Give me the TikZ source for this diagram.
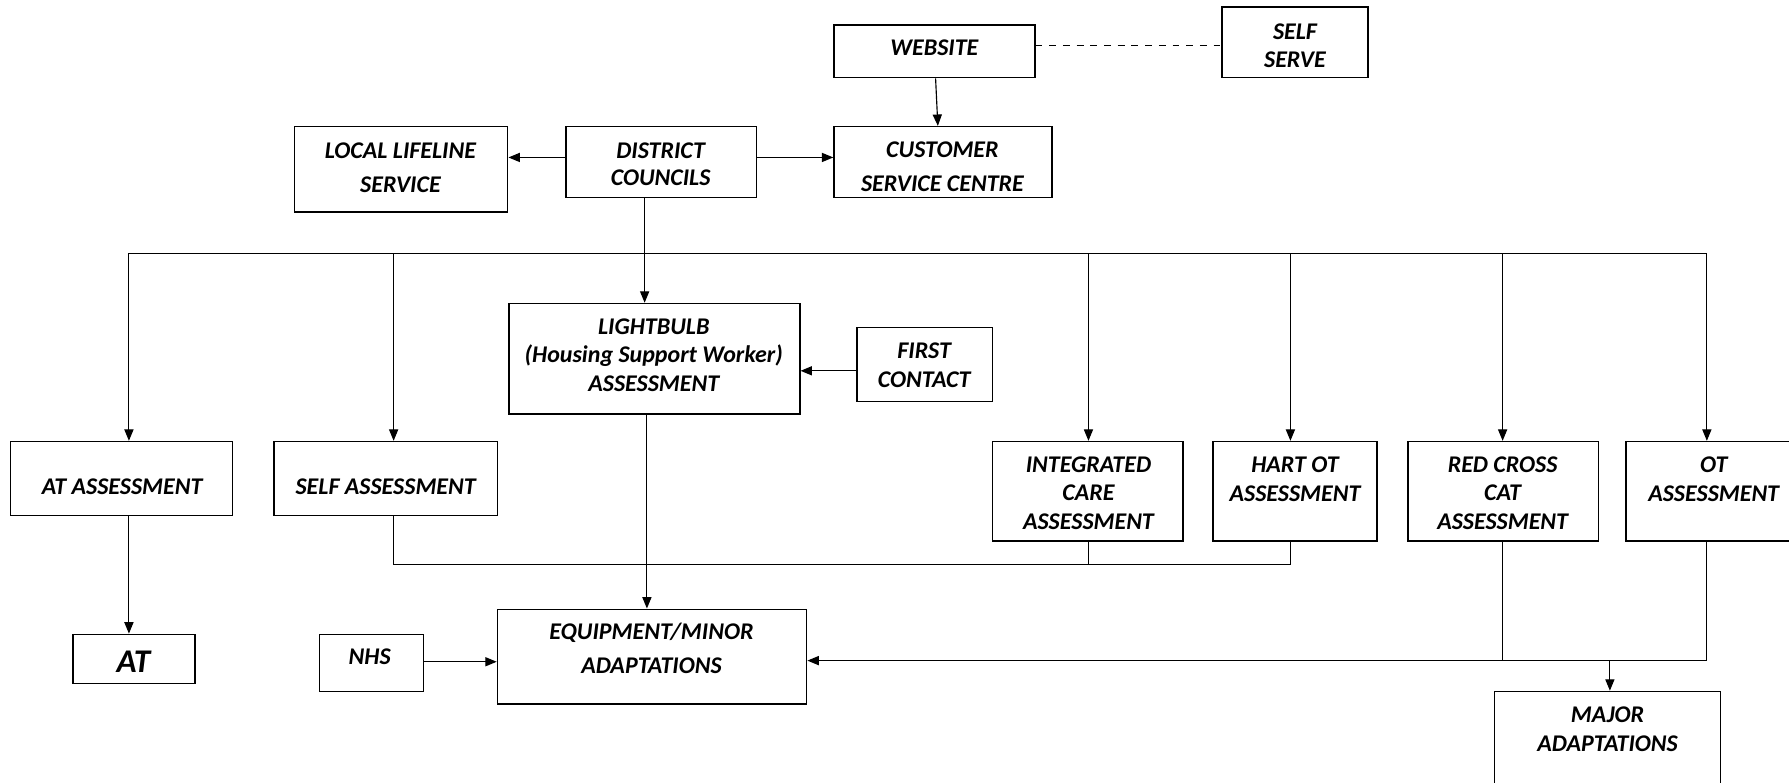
\documentclass[tikz,border=0pt]{standalone}
\usepackage{fontspec}
\setmainfont{Carlito}
\usetikzlibrary{arrows.meta,fit}
\begin{document}
\begin{tikzpicture}[x=0.5pt,y=-0.5pt,
  box/.style={draw, line width=0.65pt, inner sep=0pt, fit={#1}},
  txt/.style={align=center, inner sep=0pt, font=\fontsize{10.5}{12.5}\selectfont\bfseries\itshape},
  wide/.style={font=\fontsize{10.5}{15}\selectfont\bfseries\itshape},
  narrow/.style={font=\fontsize{10.5}{12}\selectfont\bfseries\itshape},
  conn/.style={line width=0.5pt},
  arr/.style={line width=0.5pt, -{Triangle[length=5pt,width=4pt]}}]
\useasboundingbox (0,0) rectangle (1568,686);
\clip (0,0) rectangle (1568,686);
% boxes
\node[box={(731,22) (907,68)}] (web) {};
\node[box={(1071,6) (1199,68)}] (ss) {};
\node[box={(258,111) (445,186)}] (lls) {};
\node[box={(496,111) (663,173)}] (dc) {};
\node[box={(731,111) (922,173)}] (css) {};
\node[box={(446,266) (701,363)}] (lb) {};
\node[box={(751,287) (870,352)}] (fc) {};
\node[box={(9,387) (204,452)}] (atass) {};
\node[box={(240,387) (436,452)}] (sa) {};
\node[box={(870,387) (1037,474)}] (ica) {};
\node[box={(1063,387) (1207,474)}] (hart) {};
\node[box={(1234,387) (1401,474)}] (rc) {};
\node[box={(1425,387) (1580,474)}] (ot) {};
\node[box={(64,556) (171,599)}] (at) {};
\node[box={(280,556) (371,606)}] (nhs) {};
\node[box={(436,534) (707,617)}] (eq) {};
\node[box={(1310,606) (1508,700)}] (maj) {};
% texts
\node[txt] (web-t) at (819,42) {WEBSITE};
\node[txt,narrow] (ss-t) at (1135,40) {SELF\\SERVE};
\node[txt,wide] (lls-t) at (351,147) {LOCAL LIFELINE\\SERVICE};
\node[txt,narrow] (dc-t) at (579,144) {DISTRICT\\COUNCILS};
\node[txt,wide] (css-t) at (826,146) {CUSTOMER\\SERVICE CENTRE};
\node[txt] (lb-t) at (573,311) {LIGHTBULB\\(Housing Support Worker)\\ASSESSMENT};
\node[txt] (fc-t) at (810,320) {FIRST\\CONTACT};
\node[txt] (atass-t) at (107,427) {AT ASSESSMENT};
\node[txt] (sa-t) at (338,427) {SELF ASSESSMENT};
\node[txt] (ica-t) at (954,432) {INTEGRATED\\CARE\\ASSESSMENT};
\node[txt] (hart-t) at (1135,420) {HART OT\\ASSESSMENT};
\node[txt] (rc-t) at (1317,432) {RED CROSS\\CAT\\ASSESSMENT};
\node[txt] (ot-t) at (1502,420) {OT\\ASSESSMENT};
\node[txt,font=\fontsize{14.5}{16}\selectfont\bfseries\itshape] (at-t) at (117,580) {AT};
\node[txt] (nhs-t) at (324,576) {NHS};
\node[txt,wide] (eq-t) at (571,568) {EQUIPMENT/MINOR\\ADAPTATIONS};
\node[txt] (maj-t) at (1409,639) {MAJOR\\ADAPTATIONS};
% coordinates
\coordinate (b1) at (113,222);
\coordinate (b2) at (345,222);
\coordinate (b3) at (954,222);
\coordinate (b4) at (1131,222);
\coordinate (b5) at (1317,222);
\coordinate (b6) at (1496,222);
\coordinate (c1) at (345,495);
\coordinate (c2) at (954,495);
\coordinate (c3) at (1131,495);
\coordinate (d1) at (1317,579);
\coordinate (d2) at (1496,579);
\coordinate (d3) at (1411,579);
\coordinate (dcx) at (565,0);
\coordinate (lbx) at (567,0);
% connectors
\draw[conn,dashed] (web.east |- 0,40) -- (ss.west |- 0,40);
\draw[arr] ([xshift=0.5pt]web.south) -- ([xshift=-2.25pt]css.north);
\draw[arr] (dc.west |- 0,138) -- (lls.east |- 0,138);
\draw[arr] (dc.east |- 0,138) -- (css.west |- 0,138);
\draw[arr] (dcx |- dc.south) -- (dcx |- lb.north);
\draw[conn] (b1) -- (b6);
\draw[arr] (b1) -- (b1 |- atass.north);
\draw[arr] (b2) -- (b2 |- sa.north);
\draw[arr] (b3) -- (b3 |- ica.north);
\draw[arr] (b4) -- (b4 |- hart.north);
\draw[arr] (b5) -- (b5 |- rc.north);
\draw[arr] (b6) -- (b6 |- ot.north);
\draw[arr] (fc.west |- 0,325) -- (lb.east |- 0,325);
\draw[arr] (b1 |- atass.south) -- (b1 |- at.north);
\draw[conn] (c1 |- sa.south) -- (c1) -- (c3);
\draw[conn] (c2 |- ica.south) -- (c2);
\draw[conn] (c3 |- hart.south) -- (c3);
\draw[arr] (lbx |- lb.south) -- (lbx |- eq.north);
\draw[arr] (nhs.east |- 0,580) -- (eq.west |- 0,580);
\draw[conn] (d1 |- rc.south) -- (d1);
\draw[conn] (d2 |- ot.south) -- (d2);
\draw[arr] (d2) -- (eq.east |- d2);
\draw[arr] (d3) -- (d3 |- maj.north);
\end{tikzpicture}
\end{document}
